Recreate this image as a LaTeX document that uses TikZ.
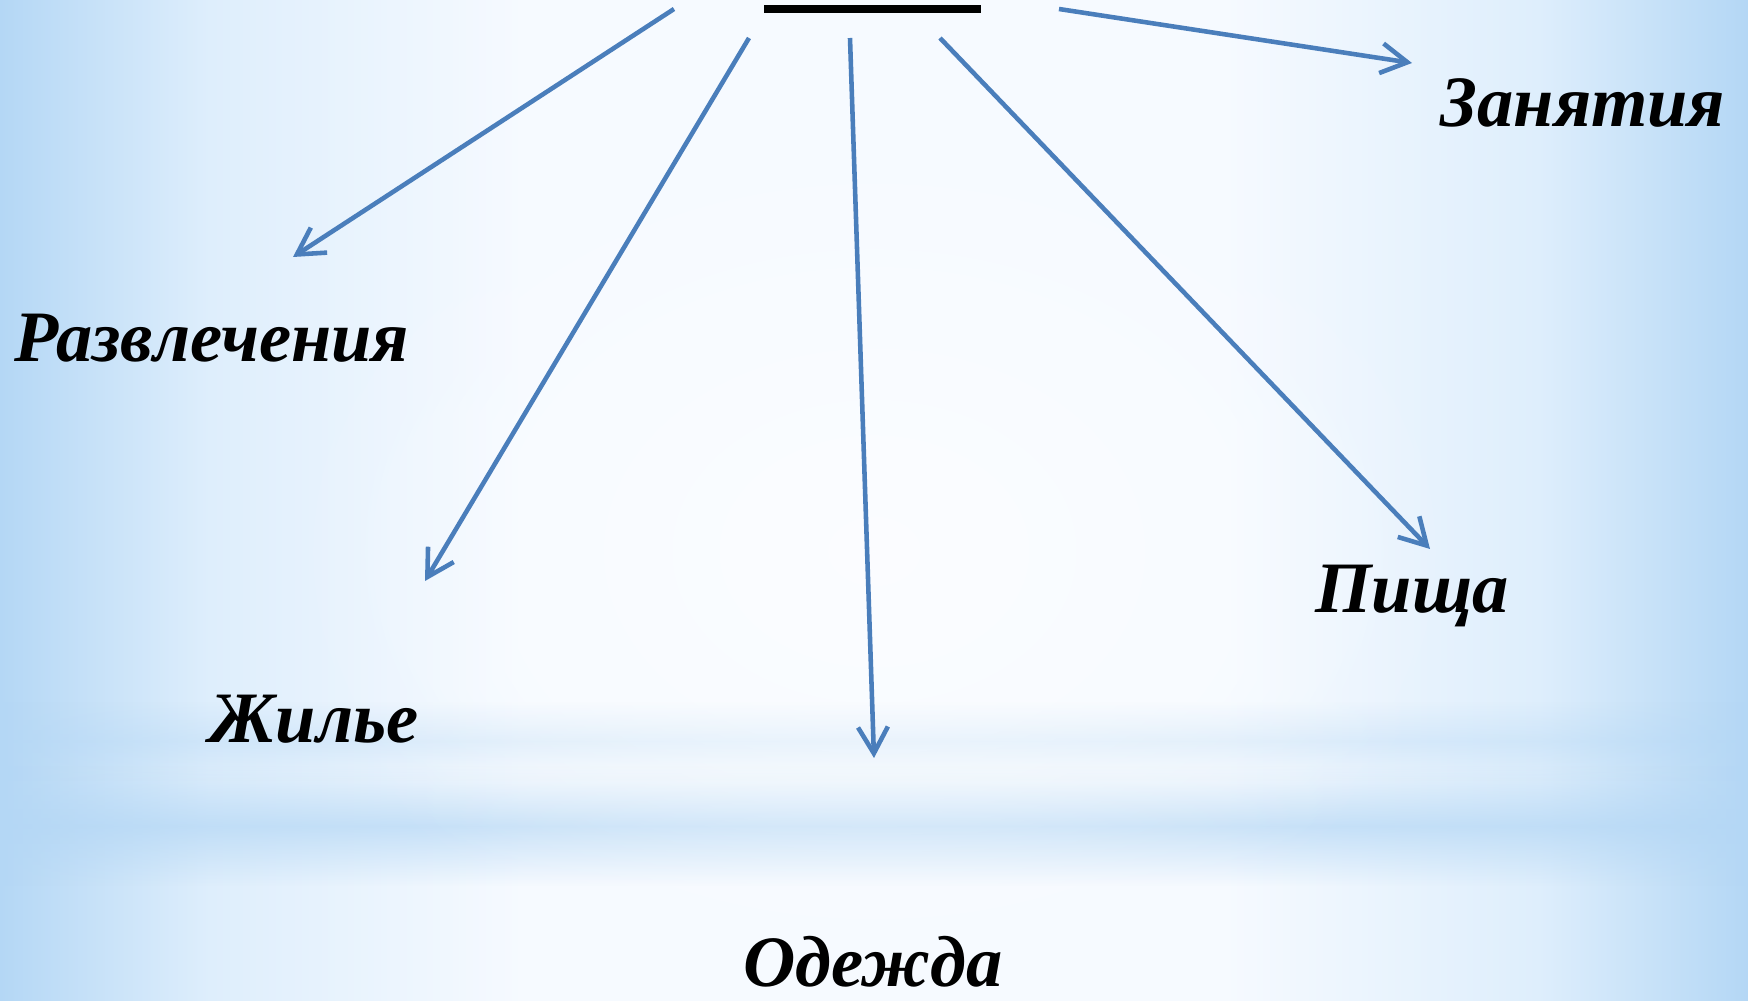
\documentclass[tikz,border=0pt]{standalone}
\usepackage{fontspec}
\setmainfont{Liberation Serif}
\usetikzlibrary{arrows.meta}
\usetikzlibrary{fadings}
\definecolor{arrowblue}{RGB}{74,126,187}
\definecolor{bgblue}{RGB}{180,215,245}
\definecolor{bgpale}{RGB}{222,238,252}
\definecolor{bgwhite}{RGB}{246,250,255}
\pgfdeclarehorizontalshading{sideglow}{100bp}{color(0bp)=(bgblue); color(25bp)=(bgblue); color(31bp)=(bgpale); color(40bp)=(bgwhite); color(60bp)=(bgwhite); color(69bp)=(bgpale); color(75bp)=(bgblue); color(100bp)=(bgblue)}
\tikzfading[name=band fade, top color=transparent!100, bottom color=transparent!100, middle color=transparent!0]
\tikzfading[name=glow fade, inner color=transparent!0, outer color=transparent!100]

\begin{document}
\begin{tikzpicture}[
    arrowline/.style={draw=arrowblue, line width=1.3pt, -{Straight Barb[length=7.5pt,width=8.5pt]}},
    topic/.style={font=\fontsize{20.6pt}{24pt}\selectfont\bfseries\itshape, anchor=base, inner sep=0pt}]
    % background
    \useasboundingbox (0,0) rectangle (17.48,10.01);
    \shade[shading=sideglow] (0,0) rectangle (17.48,10.01);
    \fill[bgblue, path fading=band fade, fill opacity=0.7] (0,1.15) rectangle (17.48,2.35);
    \fill[bgblue, path fading=band fade, fill opacity=0.35] (0,2.2) rectangle (17.48,3.0);
    \fill[white, path fading=glow fade, fill opacity=0.6] (8.74,4.5) ellipse (6 and 4.5);

    % title bar
    \node[fill=black, minimum width=2.17cm, minimum height=0.08cm, inner sep=0pt] (title) at (8.725,9.92) {};

    % draw nodes
    \node[topic] (zanyatiya) at (15.83,8.74) {Занятия};
    \node[topic] (razvlecheniya) at (2.12,6.39) {Развлечения};
    \node[topic] (zhilye) at (3.14,2.58) {Жилье};
    \node[topic] (pishcha) at (14.12,3.88) {Пища};
    \node[topic] (odezhda) at (8.73,0.14) {Одежда};

    % arrow ends
    \coordinate (s1) at (6.74,9.92);  \coordinate (e1) at (2.93,7.44);
    \coordinate (s2) at (7.49,9.63);  \coordinate (e2) at (4.25,4.20);
    \coordinate (s3) at (8.50,9.63);  \coordinate (e3) at (8.74,2.43);
    \coordinate (s4) at (9.40,9.63);  \coordinate (e4) at (14.30,4.52);
    \coordinate (s5) at (10.59,9.92); \coordinate (e5) at (14.12,9.38);

    % draw arrows
    \foreach \i in {1,...,5}
      \draw[arrowline] (s\i) -- (e\i);
\end{tikzpicture}
\end{document}
